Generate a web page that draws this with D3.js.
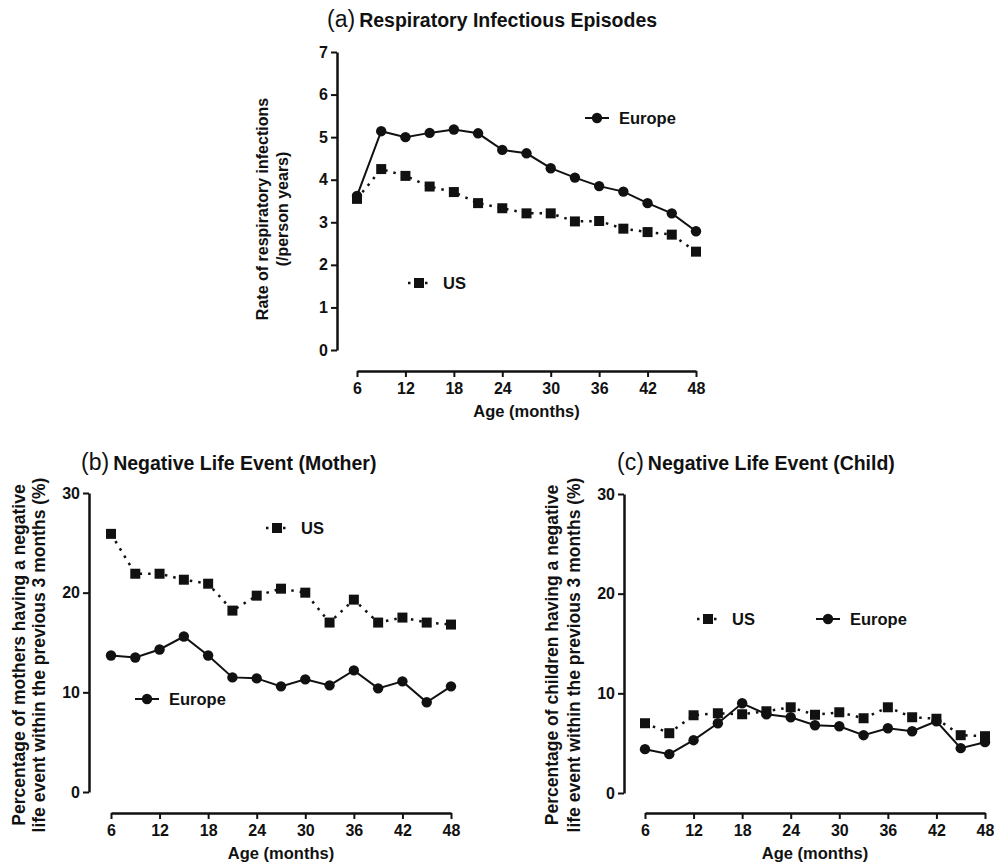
<!DOCTYPE html>
<html>
<head>
<meta charset="utf-8">
<script src="https://cdn.jsdelivr.net/npm/d3@7"></script>
<style>
  body { margin: 0; background: #fff; }
  svg { display: block; font-family: "Liberation Sans", Arial, Helvetica, sans-serif; }
</style>
</head>
<body>
<script>
"use strict";

// ---- data ----
var ages = [6, 9, 12, 15, 18, 21, 24, 27, 30, 33, 36, 39, 42, 45, 48];
var ageTicks = [6, 12, 18, 24, 30, 36, 42, 48];

// (a) respiratory infections, rate per person-year
var respEurope = [3.62, 5.14, 5.0, 5.1, 5.18, 5.09, 4.7, 4.62, 4.27, 4.05, 3.85, 3.72, 3.45, 3.21, 2.79];
var respUS = [3.55, 4.25, 4.09, 3.84, 3.71, 3.45, 3.33, 3.21, 3.21, 3.02, 3.03, 2.85, 2.77, 2.71, 2.31];
var respTicks = [0, 1, 2, 3, 4, 5, 6, 7];

// (b) negative life event, mother (%)
var motherUS = [25.9, 21.9, 21.9, 21.3, 20.9, 18.2, 19.7, 20.4, 20.0, 17.0, 19.3, 17.0, 17.5, 17.0, 16.8];
var motherEurope = [13.7, 13.5, 14.3, 15.6, 13.7, 11.5, 11.4, 10.6, 11.3, 10.7, 12.2, 10.4, 11.1, 9.0, 10.6];

// (c) negative life event, child (%)
var childUS = [7.0, 6.0, 7.8, 8.0, 7.9, 8.2, 8.6, 7.85, 8.1, 7.5, 8.6, 7.6, 7.45, 5.8, 5.7];
var childEurope = [4.4, 3.9, 5.3, 7.0, 9.0, 7.9, 7.6, 6.8, 6.7, 5.8, 6.5, 6.2, 7.2, 4.5, 5.1];
var pctTicks = [0, 10, 20, 30];

// ---- drawing ----
var svg = d3.select("body").append("svg")
    .attr("width", 994)
    .attr("height", 867);

function styleAxis(sel) {
    sel.attr("font-family", null).attr("font-size", null);
    sel.select(".domain").attr("stroke", "#111").attr("stroke-width", 2.5);
    sel.selectAll(".tick line").attr("stroke", "#111").attr("stroke-width", 2);
    sel.selectAll(".tick text")
        .style("font-size", "16px")
        .style("font-weight", "bold")
        .attr("fill", "#111");
}

function drawPanel(cfg) {
    var x = d3.scaleLinear().domain([6, 48]).range([cfg.x0, cfg.x1]);
    var y = d3.scaleLinear().domain(cfg.yDomain).range([cfg.y0, cfg.y1]);
    var g = svg.append("g");

    // title
    var t = g.append("text")
        .attr("x", cfg.titleX)
        .attr("y", cfg.titleY)
        .attr("fill", "#111");
    t.append("tspan")
        .style("font-size", "23px")
        .style("font-weight", "normal")
        .text(cfg.letter);
    t.append("tspan")
        .attr("dx", 4)
        .style("font-size", "19.5px")
        .style("font-weight", "bold")
        .text(cfg.title);

    // y axis
    g.append("g")
        .attr("transform", "translate(" + cfg.yAxisX + ",0)")
        .call(d3.axisLeft(y).tickValues(cfg.yTicks).tickFormat(d3.format("d"))
            .tickSize(6).tickSizeOuter(0).tickPadding(3))
        .call(styleAxis);

    // x axis
    g.append("g")
        .attr("transform", "translate(0," + cfg.xAxisY + ")")
        .call(d3.axisBottom(x).tickValues(ageTicks).tickFormat(d3.format("d"))
            .tickSize(6).tickSizeOuter(0).tickPadding(6))
        .call(styleAxis);

    // axis titles
    g.append("text")
        .attr("x", (cfg.x0 + cfg.x1) / 2)
        .attr("y", cfg.xAxisY + 46)
        .attr("text-anchor", "middle")
        .style("font-size", "16.5px")
        .style("font-weight", "bold")
        .attr("fill", "#111")
        .text("Age (months)");

    cfg.yLabel.forEach(function (line, i) {
        g.append("text")
            .attr("transform", "translate(" + cfg.yLabelX[i] + "," + cfg.yLabelY + ") rotate(-90)")
            .attr("text-anchor", "middle")
            .style("font-size", cfg.yLabelSize + "px")
            .style("font-weight", "bold")
            .attr("fill", "#111")
            .text(line);
    });

    var line = d3.line()
        .x(function (d, i) { return x(ages[i]); })
        .y(function (d) { return y(d); });

    // US (dotted, squares)
    g.append("path")
        .datum(cfg.us)
        .attr("d", line)
        .attr("fill", "none")
        .attr("stroke", "#111")
        .attr("stroke-width", 2.5)
        .attr("stroke-dasharray", "2.5,6");
    g.selectAll(".sq")
        .data(cfg.us)
        .enter().append("rect")
        .attr("x", function (d, i) { return x(ages[i]) - 5; })
        .attr("y", function (d) { return y(d) - 5; })
        .attr("width", 10)
        .attr("height", 10)
        .attr("fill", "#111");

    // Europe (solid, circles)
    g.append("path")
        .datum(cfg.europe)
        .attr("d", line)
        .attr("fill", "none")
        .attr("stroke", "#111")
        .attr("stroke-width", 2);
    g.selectAll(".ci")
        .data(cfg.europe)
        .enter().append("circle")
        .attr("cx", function (d, i) { return x(ages[i]); })
        .attr("cy", function (d) { return y(d); })
        .attr("r", 5.2)
        .attr("fill", "#111");

    // legends
    var lu = cfg.legUS;
    g.append("line")
        .attr("x1", lu[0] - 11).attr("x2", lu[0] + 12)
        .attr("y1", lu[1]).attr("y2", lu[1])
        .attr("stroke", "#111").attr("stroke-width", 2.5)
        .attr("stroke-dasharray", "2.5,6");
    g.append("rect")
        .attr("x", lu[0] - 5).attr("y", lu[1] - 5)
        .attr("width", 10).attr("height", 10)
        .attr("fill", "#111");
    g.append("text")
        .attr("x", lu[0] + 24).attr("y", lu[1] + 6)
        .style("font-size", "16.5px").style("font-weight", "bold")
        .attr("fill", "#111")
        .text("US");

    var le = cfg.legEU;
    g.append("line")
        .attr("x1", le[0] - 12).attr("x2", le[0] + 12)
        .attr("y1", le[1]).attr("y2", le[1])
        .attr("stroke", "#111").attr("stroke-width", 2);
    g.append("circle")
        .attr("cx", le[0]).attr("cy", le[1]).attr("r", 5.2)
        .attr("fill", "#111");
    g.append("text")
        .attr("x", le[0] + 22).attr("y", le[1] + 6)
        .style("font-size", "16.5px").style("font-weight", "bold")
        .attr("fill", "#111")
        .text("Europe");
}

drawPanel({
    letter: "(a)", title: "Respiratory Infectious Episodes",
    titleX: 327, titleY: 27,
    x0: 357, x1: 696, xAxisY: 371,
    yDomain: [0, 7], y0: 350, y1: 52, yAxisX: 337, yTicks: respTicks,
    yLabel: ["Rate of respiratory infections", "(/person years)"],
    yLabelX: [268, 288], yLabelY: 209, yLabelSize: 16,
    us: respUS, europe: respEurope,
    legUS: [419, 283], legEU: [597, 118]
});

drawPanel({
    letter: "(b)", title: "Negative Life Event (Mother)",
    titleX: 81, titleY: 470,
    x0: 111, x1: 451, xAxisY: 813,
    yDomain: [0, 30], y0: 792, y1: 493, yAxisX: 89, yTicks: pctTicks,
    yLabel: ["Percentage of mothers having a negative", "life event within the previous 3 months (%)"],
    yLabelX: [25, 45], yLabelY: 655, yLabelSize: 17.5,
    us: motherUS, europe: motherEurope,
    legUS: [277, 528], legEU: [147, 699]
});

drawPanel({
    letter: "(c)", title: "Negative Life Event (Child)",
    titleX: 617, titleY: 470,
    x0: 645, x1: 985, xAxisY: 813,
    yDomain: [0, 30], y0: 793, y1: 494, yAxisX: 624, yTicks: pctTicks,
    yLabel: ["Percentage of children having a negative", "life event within the previous 3 months (%)"],
    yLabelX: [558, 580], yLabelY: 655, yLabelSize: 17.5,
    us: childUS, europe: childEurope,
    legUS: [708, 619], legEU: [828, 619]
});
</script>
</body>
</html>
